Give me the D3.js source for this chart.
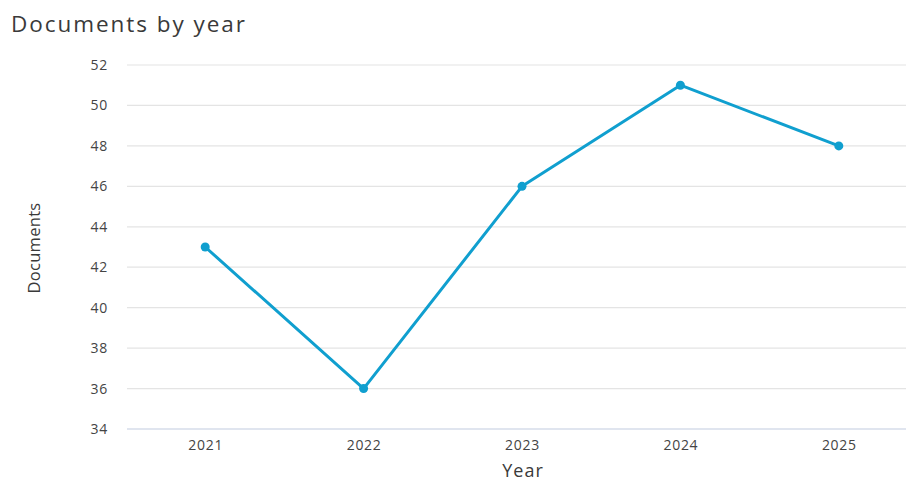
<!DOCTYPE html>
<html>
<head>
<meta charset="utf-8">
<script src="https://cdn.jsdelivr.net/npm/d3@7"></script>
<style>
  html, body { margin: 0; padding: 0; background: #fff; }
  svg { display: block; font-family: "Open Sans", sans-serif; }
</style>
</head>
<body>
<svg id="chart" width="906" height="482"></svg>
<script>
const years = ["2021", "2022", "2023", "2024", "2025"];
const documents = [43, 36, 46, 51, 48];
const yTicks = [34, 36, 38, 40, 42, 44, 46, 48, 50, 52];

const svg = d3.select("#chart");
const W = 906, H = 482;
const plot = { left: 126, right: 918, top: 65, bottom: 429 };
const font = "'Open Sans', sans-serif";

const x = d3.scalePoint().domain(years).range([plot.left, plot.right]).padding(0.5);
const y = d3.scaleLinear().domain([34, 52]).range([plot.bottom, plot.top]);

// Title
svg.append("text")
  .attr("x", 11).attr("y", 32)
  .attr("font-size", 22.5).attr("fill", "#3a3a3a")
  .attr("textLength", 234).attr("lengthAdjust", "spacing")
  .text("Documents by year");

// Horizontal gridlines
svg.append("g").selectAll("line").data(yTicks).join("line")
  .attr("x1", 127).attr("x2", W)
  .attr("y1", d => y(d)).attr("y2", d => y(d))
  .attr("stroke", d => d === 34 ? "#d6dcea" : "#e4e4e4")
  .attr("stroke-width", d => d === 34 ? 1.5 : 1.2);

// Y axis tick labels
const yAxis = d3.axisLeft(y).tickValues(yTicks).tickSize(0).tickPadding(0);
const yg = svg.append("g").attr("transform", `translate(${108},0)`).call(yAxis);
yg.select(".domain").remove();
yg.selectAll("text").attr("font-size", 14).attr("fill", "#444").attr("font-family", font)
  .attr("letter-spacing", 0.7);

// X axis tick labels
const xAxis = d3.axisBottom(x).tickSize(0).tickPadding(0);
const xg = svg.append("g").attr("transform", `translate(0,${440})`).call(xAxis);
xg.select(".domain").remove();
xg.selectAll("text").attr("font-size", 14).attr("fill", "#444").attr("font-family", font)
  .attr("letter-spacing", 0.7);

// Axis titles
svg.append("text")
  .attr("x", 523).attr("y", 477)
  .attr("text-anchor", "middle")
  .attr("font-size", 18).attr("fill", "#3a3a3a")
  .attr("letter-spacing", 1)
  .text("Year");

svg.append("text")
  .attr("transform", `translate(40,${248}) rotate(-90)`)
  .attr("text-anchor", "middle")
  .attr("font-size", 16.5).attr("fill", "#3a3a3a")
  .attr("letter-spacing", 0.3)
  .text("Documents");

// Series line and points
const data = years.map((yr, i) => ({ year: yr, value: documents[i] }));
const color = "#109fcf";

svg.append("path")
  .datum(data)
  .attr("fill", "none")
  .attr("stroke", color)
  .attr("stroke-width", 3)
  .attr("stroke-linejoin", "round")
  .attr("d", d3.line().x(d => x(d.year)).y(d => y(d.value)));

svg.append("g").selectAll("circle").data(data).join("circle")
  .attr("cx", d => x(d.year))
  .attr("cy", d => y(d.value))
  .attr("r", 4.5)
  .attr("fill", color);
</script>
</body>
</html>
